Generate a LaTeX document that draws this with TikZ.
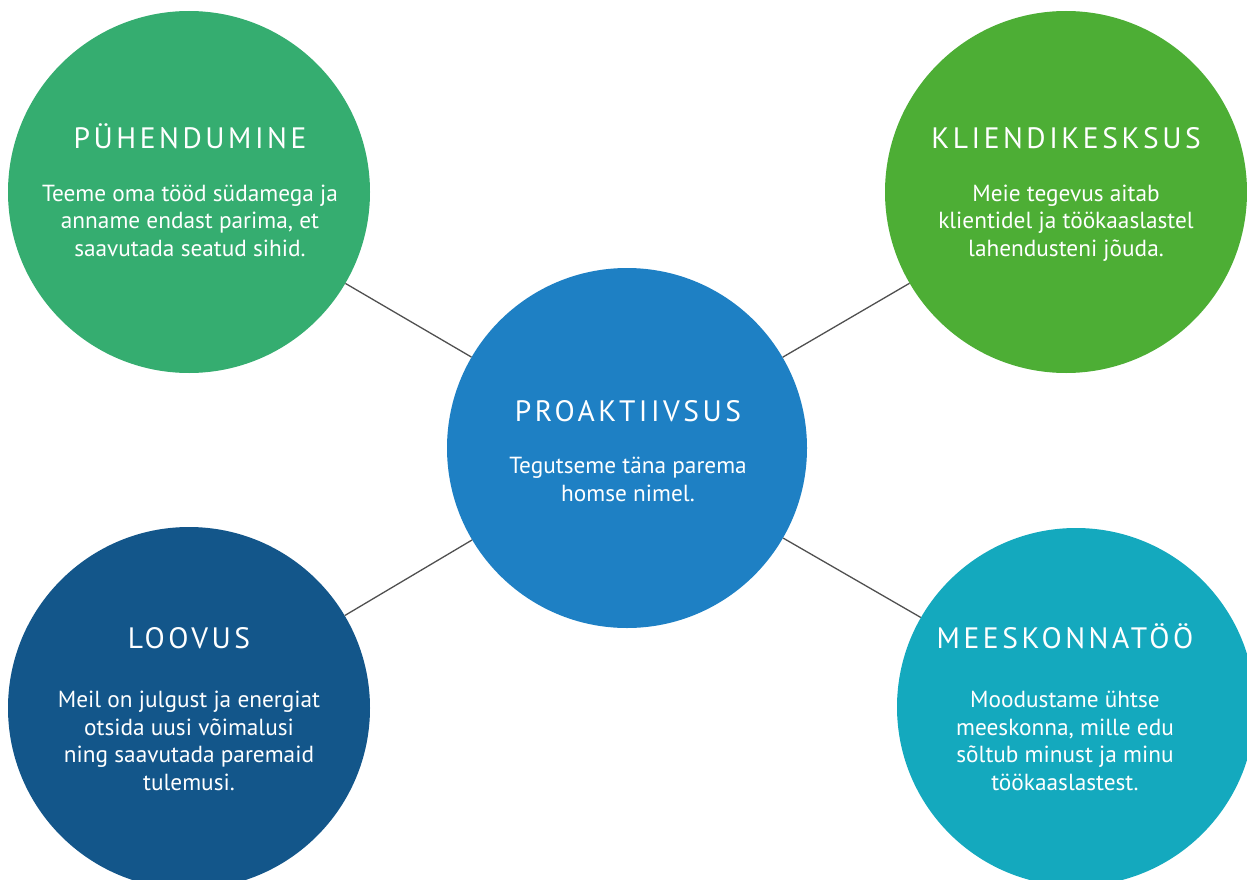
\documentclass[tikz,border=0pt]{standalone}
\usepackage{fontspec}
\setmainfont{PT Sans}
\newfontfamily\titlefont[LetterSpace=12]{PT Sans}
\definecolor{cgreenA}{RGB}{53,173,112}
\definecolor{cgreenB}{RGB}{77,174,53}
\definecolor{cblue}{RGB}{30,128,196}
\definecolor{cnavy}{RGB}{19,86,138}
\definecolor{cteal}{RGB}{20,169,190}
\definecolor{clink}{RGB}{80,80,80}
\begin{document}
\begin{tikzpicture}[x=1pt,y=-1pt,
  bubble/.style={circle,inner sep=0pt,minimum size=362pt,draw=none},
  ttl/.style={text=white,font=\titlefont\fontsize{29.5}{31}\selectfont,inner sep=0pt,anchor=base},
  bdy/.style={text=white,font=\fontsize{23.3}{27.5}\selectfont,align=center,inner sep=0pt,anchor=base},
  link/.style={draw=clink,line width=1.3pt}]
\path[use as bounding box,clip] (0,0) rectangle (1247,880);
\node[bubble,fill=cgreenA] (pu) at (189,192) {};
\node[bubble,fill=cgreenB] (kl) at (1066,192) {};
\node[bubble,fill=cblue,minimum size=360pt] (pr) at (627,448) {};
\node[bubble,fill=cnavy] (lo) at (189,708) {};
\node[bubble,fill=cteal,minimum size=358pt] (me) at (1076,707) {};
\draw[link] (pu) -- (pr);
\draw[link] (kl) -- (pr);
\draw[link] (lo) -- (pr);
\draw[link] (me) -- (pr);
\node[ttl] (pu-t) at (190,148) {PÜHENDUMINE};
\node[bdy] (pu-b) at (190,256) {Teeme oma tööd südamega ja\\anname endast parima, et\\saavutada seatud sihid.};
\node[ttl] (kl-t) at (1066,148) {KLIENDIKESKSUS};
\node[bdy] (kl-b) at (1066,256) {Meie tegevus aitab\\klientidel ja töökaaslastel\\lahendusteni jõuda.};
\node[ttl] (pr-t) at (628,421) {PROAKTIIVSUS};
\node[bdy] (pr-b) at (628,501) {Tegutseme täna parema\\homse nimel.};
\node[ttl] (lo-t) at (189,648) {LOOVUS};
\node[bdy] (lo-b) at (189,790) {Meil on julgust ja energiat\\otsida uusi võimalusi\\ning saavutada paremaid\\tulemusi.};
\node[ttl] (me-t) at (1065,648) {MEESKONNATÖÖ};
\node[bdy] (me-b) at (1065,790) {Moodustame ühtse\\meeskonna, mille edu\\sõltub minust ja minu\\töökaaslastest.};
\end{tikzpicture}
\end{document}
